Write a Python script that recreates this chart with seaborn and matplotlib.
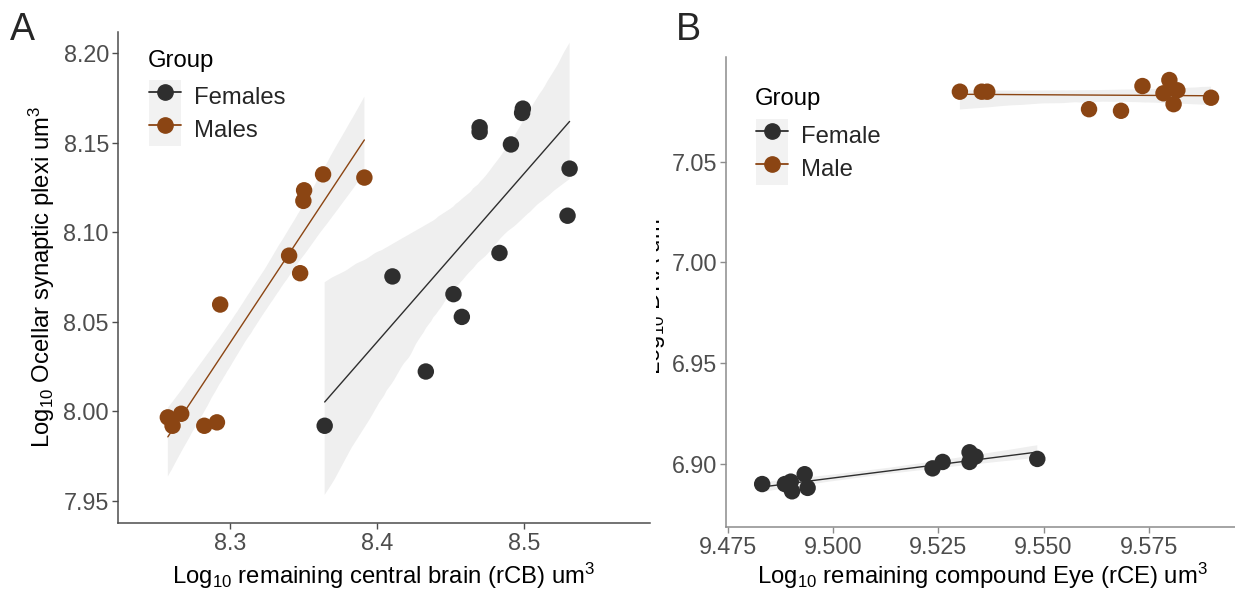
import numpy as np
import pandas as pd
import matplotlib
matplotlib.use("Agg")
import matplotlib.pyplot as plt
import seaborn as sns
from matplotlib.lines import Line2D
from matplotlib.patches import Patch
from matplotlib.legend_handler import HandlerTuple
from matplotlib.transforms import Bbox, TransformedBbox

# ---------------- data ----------------
# Panel A : Log10 rCB (x) vs Log10 ocellar synaptic plexi (y)
a_female_x = [8.4698, 8.4698, 8.4992, 8.4987, 8.4911, 8.5310, 8.5296, 8.4833,
              8.4105, 8.4520, 8.4577, 8.4332, 8.3644]
a_female_y = [8.1587, 8.1561, 8.1691, 8.1667, 8.1491, 8.1356, 8.1093, 8.0885,
              8.0754, 8.0655, 8.0528, 8.0223, 7.9920]
a_male_x = [8.3633, 8.3914, 8.3504, 8.3499, 8.3402, 8.3477, 8.2933, 8.2577,
            8.2609, 8.2668, 8.2825, 8.2911]
a_male_y = [8.1324, 8.1306, 8.1235, 8.1176, 8.0870, 8.0772, 8.0597, 7.9967,
            7.9920, 7.9987, 7.9920, 7.9939]
a_groups = ["Females", "Males"]

# Panel B : Log10 rCE (x) vs Log10 DRA (y)
b_female_x = [9.4831, 9.4885, 9.4899, 9.4902, 9.4932, 9.4939, 9.5236, 9.5260,
              9.5324, 9.5324, 9.5338, 9.5485]
b_female_y = [6.8898, 6.8898, 6.8910, 6.8862, 6.8947, 6.8879, 6.8976, 6.9008,
              6.9056, 6.9008, 6.9035, 6.9023]
b_male_x = [9.5301, 9.5353, 9.5366, 9.5608, 9.5684, 9.5735, 9.5785, 9.5799,
            9.5818, 9.5809, 9.5898]
b_male_y = [7.0849, 7.0849, 7.0849, 7.0762, 7.0754, 7.0877, 7.0841, 7.0907,
            7.0856, 7.0787, 7.0819]
b_groups = ["Female", "Male"]

a_xticks = [8.3, 8.4, 8.5]
a_yticks = [7.95, 8.00, 8.05, 8.10, 8.15, 8.20]
b_xticks = [9.475, 9.500, 9.525, 9.550, 9.575]
b_yticks = [6.90, 6.95, 7.00, 7.05]

dfA = pd.DataFrame({
    "x": a_female_x + a_male_x,
    "y": a_female_y + a_male_y,
    "Group": [a_groups[0]] * len(a_female_x) + [a_groups[1]] * len(a_male_x),
})
dfB = pd.DataFrame({
    "x": b_female_x + b_male_x,
    "y": b_female_y + b_male_y,
    "Group": [b_groups[0]] * len(b_female_x) + [b_groups[1]] * len(b_male_x),
})

# ---------------- style ----------------
sns.set_style("ticks")
plt.rcParams["font.family"] = ["Liberation Sans", "DejaVu Sans"]
plt.rcParams["mathtext.fontset"] = "custom"
plt.rcParams["mathtext.rm"] = "Liberation Sans"
plt.rcParams["mathtext.it"] = "Liberation Sans:italic"
plt.rcParams["mathtext.bf"] = "Liberation Sans:bold"
plt.rcParams["mathtext.default"] = "regular"

C_F = "#2E2E2E"
C_M = "#8B4513"
BAND = "#EFEFEF"
W, H = 1235, 589
FS_TICK = 16.8
FS_TITLE = 17.2
FS_LEG = 17.2

fig = plt.figure(figsize=(W / 100, H / 100), dpi=100)


def px_axes(l, t, r, b):
    return fig.add_axes([l / W, 1 - b / H, (r - l) / W, (b - t) / H])


axA = px_axes(118, 32, 650, 523)
axB = px_axes(726, 56.7, 1235, 527.3)


def draw_panel(ax, df, groups, spine_col):
    pal = {groups[0]: C_F, groups[1]: C_M}
    for g in groups:
        sub = df[df.Group == g]
        n_before = len(ax.collections)
        sns.regplot(data=sub, x="x", y="y", ax=ax, scatter=False, ci=95,
                    n_boot=1000, seed=3, color=pal[g],
                    line_kws=dict(lw=1.0, zorder=2))
        for coll in ax.collections[n_before:]:
            coll.set_facecolor(BAND)
            coll.set_edgecolor("none")
            coll.set_alpha(1)
            coll.set_zorder(1)
    sns.scatterplot(data=df, x="x", y="y", hue="Group", palette=pal,
                    hue_order=groups, s=140, linewidth=0, ax=ax,
                    legend=False, zorder=3)
    sns.despine(ax=ax)
    for s in ["left", "bottom"]:
        ax.spines[s].set_color(spine_col)
        ax.spines[s].set_linewidth(1.1)
    ax.tick_params(axis="both", labelsize=FS_TICK, labelcolor="#4D4D4D",
                   color=spine_col, length=4, width=1, pad=2.5)
    ax.set_xlabel("")
    ax.set_ylabel("")
    handles = [
        (Patch(facecolor="#F2F2F2", edgecolor="none"),
         Line2D([], [], color=pal[g], marker="o", markersize=11, lw=1.3))
        for g in groups
    ]
    return handles


hA = draw_panel(axA, dfA, a_groups, "#4D4D4D")
hB = draw_panel(axB, dfB, b_groups, "#8C8C8C")

axA.set_xlim(8.2238, 8.5857)
axA.set_ylim(7.9377, 8.2119)
axA.set_xticks(a_xticks)
axA.set_xticklabels([f"{v:.1f}" for v in a_xticks])
axA.set_yticks(a_yticks)
axA.set_yticklabels([f"{v:.2f}" for v in a_yticks])

axB.set_xlim(9.4745, 9.5955)
axB.set_ylim(6.8683, 7.1023)
axB.set_xticks(b_xticks)
axB.set_xticklabels([f"{v:.3f}" for v in b_xticks])
axB.set_yticks(b_yticks)
axB.set_yticklabels([f"{v:.2f}" for v in b_yticks])


def add_legend(ax, handles, labels, x, y, title_y):
    leg = ax.legend(handles, labels,
                    handler_map={tuple: HandlerTuple(ndivide=1, pad=0)},
                    loc="upper left", bbox_to_anchor=(x / W, 1 - y / H),
                    bbox_transform=fig.transFigure, frameon=False,
                    fontsize=FS_LEG, borderpad=0,
                    labelspacing=0.0, handlelength=1.32, handleheight=1.75,
                    handletextpad=0.55, borderaxespad=0)
    fig.text((x - 1) / W, 1 - title_y / H, "Group", fontsize=FS_LEG,
             ha="left", va="baseline", color="black")
    return leg


add_legend(axA, hA, a_groups, 149, 80, 67)
add_legend(axB, hB, b_groups, 756, 119, 105)

# axis titles
fig.text(384 / W, 1 - 584 / H, "Log$_{10}$ remaining central brain (rCB) um$^{3}$",
         ha="center", va="baseline", fontsize=FS_TITLE, color="black")
fig.text(57 / W, 1 - 277 / H, "Log$_{10}$ Ocellar synaptic plexi um$^{3}$",
         ha="right", va="center", rotation=90, fontsize=FS_TITLE, color="black")
fig.text(982 / W, 1 - 584 / H, "Log$_{10}$ remaining compound Eye (rCE) um$^{3}$",
         ha="center", va="baseline", fontsize=FS_TITLE, color="black")
tB = fig.text(668 / W, 1 - 292 / H, "Log$_{10}$ DRA um$^{3}$",
              ha="right", va="center", rotation=90, fontsize=FS_TITLE, color="black")
tB.set_clip_on(True)
tB.set_clip_box(TransformedBbox(Bbox.from_extents(656 / W, 0, 1, 1), fig.transFigure))

# panel letters
fig.text(10 / W, 1 - 40 / H, "A", fontsize=27, va="baseline", ha="left")
fig.text(676 / W, 1 - 40 / H, "B", fontsize=27, va="baseline", ha="left")

fig.savefig("out.png", dpi=100)
